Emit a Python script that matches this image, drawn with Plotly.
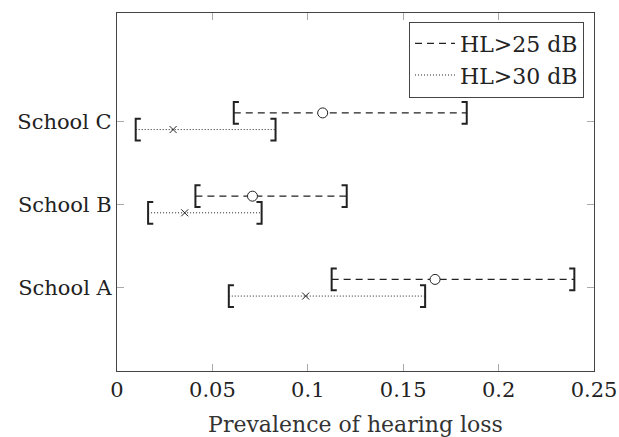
import plotly.graph_objects as go

# ---- data ----
schools = ["School A", "School B", "School C"]
hl25_lo = [0.1125, 0.0411, 0.0612]
hl25_est = [0.1667, 0.0710, 0.1078]
hl25_hi = [0.2397, 0.1204, 0.1833]
hl30_lo = [0.0586, 0.0163, 0.0098]
hl30_est = [0.0989, 0.0355, 0.0294]
hl30_hi = [0.1615, 0.0758, 0.0831]
x_ticks = [0, 0.05, 0.1, 0.15, 0.2, 0.25]
x_tick_labels = ["0", "0.05", "0.1", "0.15", "0.2", "0.25"]
series_names = ["HL>25 dB", "HL>30 dB"]

FONT = "DejaVu Serif"
INK = "#222222"
ypos = [i + 1 for i in range(len(schools))]
OFF = 0.1      # vertical offset of each series around its category
BW = 0.0027    # bracket serif width (data units)
BH = 0.13      # bracket half height (y units)

fig = go.Figure()

def add_series(name, lo, est, hi, dy, dash, lw, symbol, msize, mfill):
    ys = [y + dy for y in ypos]
    lx, ly, bx, by = [], [], [], []
    for a, b, y in zip(lo, hi, ys):
        lx += [a, b, None]
        ly += [y, y, None]
        bx += [a + BW, a, a, a + BW, None, b - BW, b, b, b - BW, None]
        by += [y + BH, y + BH, y - BH, y - BH, None, y + BH, y + BH, y - BH, y - BH, None]
    fig.add_trace(go.Scatter(x=lx, y=ly, mode="lines", name=name,
                             line=dict(color=INK, width=lw, dash=dash)))
    fig.add_trace(go.Scatter(x=bx, y=by, mode="lines", showlegend=False,
                             line=dict(color=INK, width=2)))
    fig.add_trace(go.Scatter(x=est, y=ys, mode="markers", showlegend=False,
                             marker=dict(symbol=symbol, size=msize, color=mfill,
                                         line=dict(color=INK, width=1))))

add_series(series_names[0], hl25_lo, hl25_est, hl25_hi, OFF, "7px,5px", 1.1,
           "circle", 10, "white")
add_series(series_names[1], hl30_lo, hl30_est, hl30_hi, -OFF, "1px,2px", 1.0,
           "x-thin", 7, INK)

axis_common = dict(showline=True, linecolor="#444444", linewidth=1.2, mirror="ticks",
                   ticks="inside", ticklen=7, tickcolor="#aaaaaa", tickwidth=1,
                   showgrid=False, zeroline=False, automargin=False,
                   tickfont=dict(family=FONT, size=21, color=INK))

fig.update_layout(
    width=619, height=437,
    margin=dict(l=117, r=25, t=13, b=66),
    paper_bgcolor="white", plot_bgcolor="white",
    font=dict(family=FONT, color=INK),
    xaxis=dict(range=[0, 0.25], tickvals=x_ticks, ticktext=x_tick_labels,
               title=dict(text="Prevalence of hearing loss",
                          font=dict(family=FONT, size=22, color="#333333"),
                          standoff=18),
               **axis_common),
    yaxis=dict(range=[0, 4.3], tickvals=ypos, ticktext=schools, **axis_common),
    legend=dict(x=0.979, y=0.976, xanchor="right", yanchor="top",
                bordercolor="#444444", borderwidth=1, bgcolor="white",
                font=dict(family=FONT, size=22, color=INK),
                itemwidth=40),
    showlegend=True,
)

fig.write_html("out.html")
